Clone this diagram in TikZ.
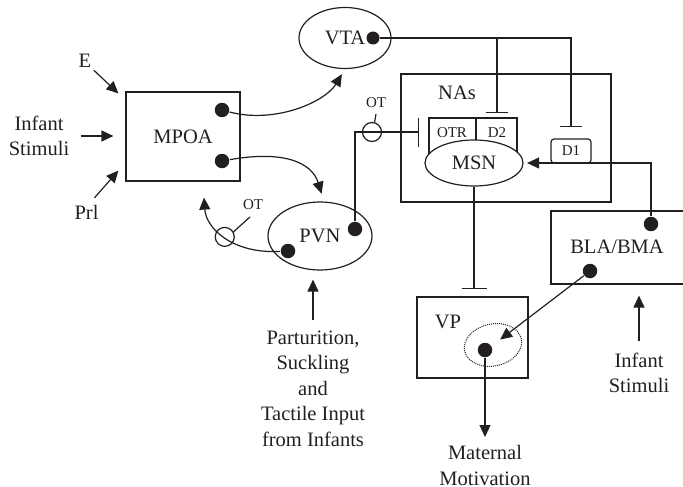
\documentclass[tikz,border=0pt]{standalone}
\usepackage{fontspec}
\setmainfont{Liberation Serif}
\usetikzlibrary{arrows.meta,shapes.geometric}
\definecolor{ink}{RGB}{35,31,32}
\begin{document}
\begin{tikzpicture}[x=1pt,y=-1pt,line width=1.2pt,color=ink,
  lbl/.style={font=\fontsize{20.5}{25.5}\selectfont,align=center},
  sml/.style={font=\fontsize{15}{18}\selectfont},
  dot/.style={circle,fill=ink,inner sep=0pt,minimum size=14.5pt},
  ring/.style={circle,draw,inner sep=0pt,minimum size=19pt},
  arr/.style={-{Triangle[length=12pt,width=11pt]}},
  inh/.style={-{Bar[width=#1]}}]
\useasboundingbox (0,0) rectangle (683,487);

% regions
\node[draw,minimum width=114pt,minimum height=89pt,lbl] (mpoa) at (183,136.5) {MPOA};
\node[draw,ellipse,minimum width=92pt,minimum height=61pt,lbl] (vta) at (345,38) {VTA};
\node[draw,ellipse,minimum width=104pt,minimum height=68pt,lbl] (pvn) at (320,236) {PVN};
\node[draw,minimum width=210pt,minimum height=128pt] (nas) at (506,138) {};
\node[lbl] (nastxt) at (457,93) {NAs};
\node[draw,minimum width=88pt,minimum height=42pt] (rcpt) at (473,139) {};
\draw (rcpt.north) ++(3,0) -- ++(0,42);
\node[sml] (otr) at (452,133) {OTR};
\node[sml] (d2) at (497,133) {D2};
\node[draw,ellipse,fill=white,minimum width=98pt,minimum height=46pt,lbl] (msn) at (474,163) {MSN};
\node[draw,rounded corners=3pt,minimum width=40pt,minimum height=24pt,sml] (d1) at (571,151) {D1};
\node[draw,minimum width=111pt,minimum height=81pt] (vp) at (472.5,337.5) {};
\node[lbl] (vptxt) at (448,322) {VP};
\node[draw,ellipse,densely dotted,line width=1pt,minimum width=58pt,minimum height=42pt,rotate=12] (vpe) at (493,345) {};
\node[draw,minimum width=209pt,minimum height=73pt] (bla) at (655.5,247.5) {};
\node[lbl] (blatxt) at (617,247) {BLA/BMA};

% outside inputs and outputs
\node[lbl,inner sep=2pt] (e) at (85,61) {E};
\node[lbl,inner sep=2pt] (prl) at (86.5,212.5) {Prl};
\node[lbl,inner sep=0pt] (inf1) at (39,136) {Infant\\Stimuli};
\node[lbl,inner sep=0pt,anchor=north] (inf2) at (639,352) {Infant\\Stimuli};
\node[lbl,inner sep=0pt,anchor=north] (part) at (313,330) {Parturition,\\Suckling\\and\\Tactile Input\\from Infants};
\node[lbl,inner sep=0pt,anchor=north] (mot) at (485,445) {Maternal\\Motivation};

% projection terminals
\node[dot] (dm1) at (222,110) {};
\node[dot] (dm2) at (222,161) {};
\node[dot,minimum size=13pt] (dv) at (373,38) {};
\node[dot] (dp1) at (288,251) {};
\node[dot] (dp2) at (355,229) {};
\node[dot] (db1) at (651,224) {};
\node[dot] (db2) at (590,271) {};
\node[dot] (dvp) at (485,350) {};

% inputs to MPOA
\draw[arr] (e.south east) -- ([xshift=-7pt,yshift=-2pt]mpoa.north west);
\draw[arr] ([xshift=8pt,yshift=5pt]prl.north) -- ([xshift=-7pt,yshift=11pt]mpoa.south west);
\draw[arr,shorten <=11pt,shorten >=12pt] (inf1.east) -- (inf1.east -| mpoa.west);

% MPOA outputs
\draw[arr,shorten >=6pt] (dm1) .. controls (275,124) and (325,102) .. (vta.south);
\draw[arr,shorten >=8pt] (dm2) .. controls (285,150) and (312,163) .. ([xshift=4pt]pvn.north);

% PVN oxytocin back to MPOA
\draw[arr] (dp1) .. controls (232,254) and (206,228) .. ([xshift=21pt,yshift=-16pt]mpoa.south)
  node[ring,pos=0.5] (otc1) {};
\node[sml] (otl1) at (253,205) {OT};
\draw ([xshift=-3pt,yshift=-3pt]otl1.south) -- (otc1.30);

% PVN oxytocin to NAs
\coordinate (otend) at (419,132);
\node[ring] (otc2) at (372,132) {};
\draw[inh=29pt] (dp2) |- (otend);
\node[sml] (otl2) at (376,103) {OT};
\draw ([yshift=-2pt]otl2.south) -- (otc2.75);

% VTA dopamine to D2 and D1
\coordinate (j2) at (497,38);
\coordinate (j3) at (571,38);
\coordinate (d2bar) at (497,113);
\coordinate (d1bar) at (571,127);
\draw[inh=22pt] (dv) -- (j3) -- (d1bar);
\draw[inh=22pt] (j2) -- (d2bar);

% MSN to VP
\coordinate (vpbar) at (474,289);
\draw[inh=25pt] (msn.south) -- (vpbar);

% BLA/BMA projections
\draw[arr,shorten >=3.5pt] (db1) |- (msn.east);
\draw[arr,shorten >=9pt] (db2) -- (vpe.center);
\draw[arr,shorten <=11pt,shorten >=11pt] (inf2.north) -- (inf2.north |- bla.south);

% PVN sensory input and VP output
\draw[arr,shorten <=10pt,shorten >=9pt] (part.north) -- (part.north |- pvn.south);
\draw[arr] (dvp) -- ([yshift=8pt]mot.north);
\end{tikzpicture}
\end{document}
